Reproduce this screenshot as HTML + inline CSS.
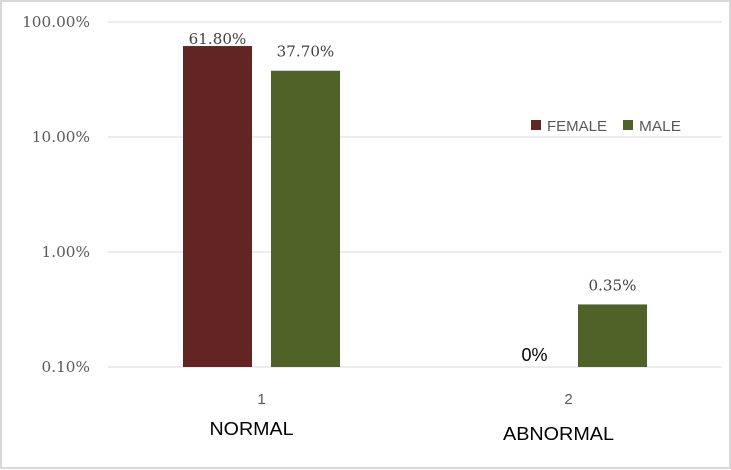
<!DOCTYPE html>
<html><head><meta charset="utf-8"><style>
html,body{margin:0;padding:0;background:#fff;}
svg{display:block;}
</style></head><body>
<svg id="chart" width="731" height="470" xmlns="http://www.w3.org/2000/svg">
<rect x="1" y="1" width="729" height="467" fill="#fff" stroke="#d9d9d9" stroke-width="2"/>
<g id="grid"></g><g id="bars"></g><g id="labels"></g>
<g>
<rect x="531" y="120" width="10" height="10" fill="#632523"/>
<text x="547" y="131" font-family="Liberation Sans, sans-serif" font-size="15" fill="#595959" textLength="60" lengthAdjust="spacingAndGlyphs">FEMALE</text>
<rect x="623" y="120" width="10" height="10" fill="#4f6228"/>
<text x="639" y="131" font-family="Liberation Sans, sans-serif" font-size="15" fill="#595959" textLength="42" lengthAdjust="spacingAndGlyphs">MALE</text>
</g>
</svg>
<script>
const categories = ["1", "2"];
const categoryNames = ["NORMAL", "ABNORMAL"];
const femaleValues = [61.8, 0];
const maleValues = [37.7, 0.35];
const femaleLabels = ["61.80%", "0%"];
const maleLabels = ["37.70%", "0.35%"];
const tickValues = [0.1, 1, 10, 100];
const tickLabels = ["0.10%", "1.00%", "10.00%", "100.00%"];

const NS = "http://www.w3.org/2000/svg";
const left = 108, right = 722, yTop = 22, yBot = 367;
function y(v){ return yBot - (Math.log10(v) - Math.log10(0.1)) / 3 * (yBot - yTop); }
const band = (right - left) / categories.length;
function xc(i){ return left + band * (i + 0.5); }
function mk(tag, attrs, parent){
  const e = document.createElementNS(NS, tag);
  for (const k in attrs) e.setAttribute(k, attrs[k]);
  parent.appendChild(e); return e;
}
const grid = document.getElementById("grid"), bars = document.getElementById("bars"), labels = document.getElementById("labels");
const serif = "DejaVu Serif, serif";
tickValues.forEach((t, i) => {
  const l = mk("line", {x1:left, x2:right, y1:y(t), y2:y(t), stroke:"#d9d9d9", "stroke-width":1}, grid);
  
  
  const s = tickLabels[i];
  const tx = mk("text", {x:90, y:y(t)+5, "text-anchor":"end", "font-family":serif, "font-size":15, fill:"#595959", textLength:s.length*9.7, lengthAdjust:"spacingAndGlyphs"}, grid);
  tx.textContent = s;
  
  
});
const bw = 69, gap = 19;
categories.forEach((c, i) => {
  const series = [[femaleValues[i], "#632523", femaleLabels[i], -1], [maleValues[i], "#4f6228", maleLabels[i], 1]];
  series.forEach(([v, col, lab, side]) => {
    const x0 = side < 0 ? xc(i) - gap/2 - bw : xc(i) + gap/2;
    if (v > 0.1) {
      const r = mk("rect", {x:x0, y:y(v), width:bw, height:yBot - y(v), fill:col}, bars);
      
      
      const ly = Math.max(y(v) - 14, 44);
      const t = mk("text", {x:x0 + bw/2, y:ly, "text-anchor":"middle", "font-family":serif, "font-size":15, fill:"#404040", textLength:lab.length*9.6, lengthAdjust:"spacingAndGlyphs"}, labels);
      t.textContent = lab;
      
      
    } else {
      const t = mk("text", {x:x0 + bw/2 + 10, y:yBot - 6, "text-anchor":"middle", "font-family":"Liberation Sans, sans-serif", "font-size":18, fill:"#000"}, labels);
      t.textContent = lab;
      
      
    }
  });
  const n = mk("text", {x:xc(i), y:404, "text-anchor":"middle", "font-family":"Liberation Sans, sans-serif", "font-size":15, fill:"#595959"}, labels);
  n.textContent = c;
  
  
  const nm = mk("text", {x:xc(i) - 10, y:i ? 440 : 435, "text-anchor":"middle", "font-family":"Liberation Sans, sans-serif", "font-size":18, fill:"#000", textLength:i ? 111 : 84, lengthAdjust:"spacingAndGlyphs"}, labels);
  nm.textContent = categoryNames[i];
  
  
});
</script>
</body></html>
